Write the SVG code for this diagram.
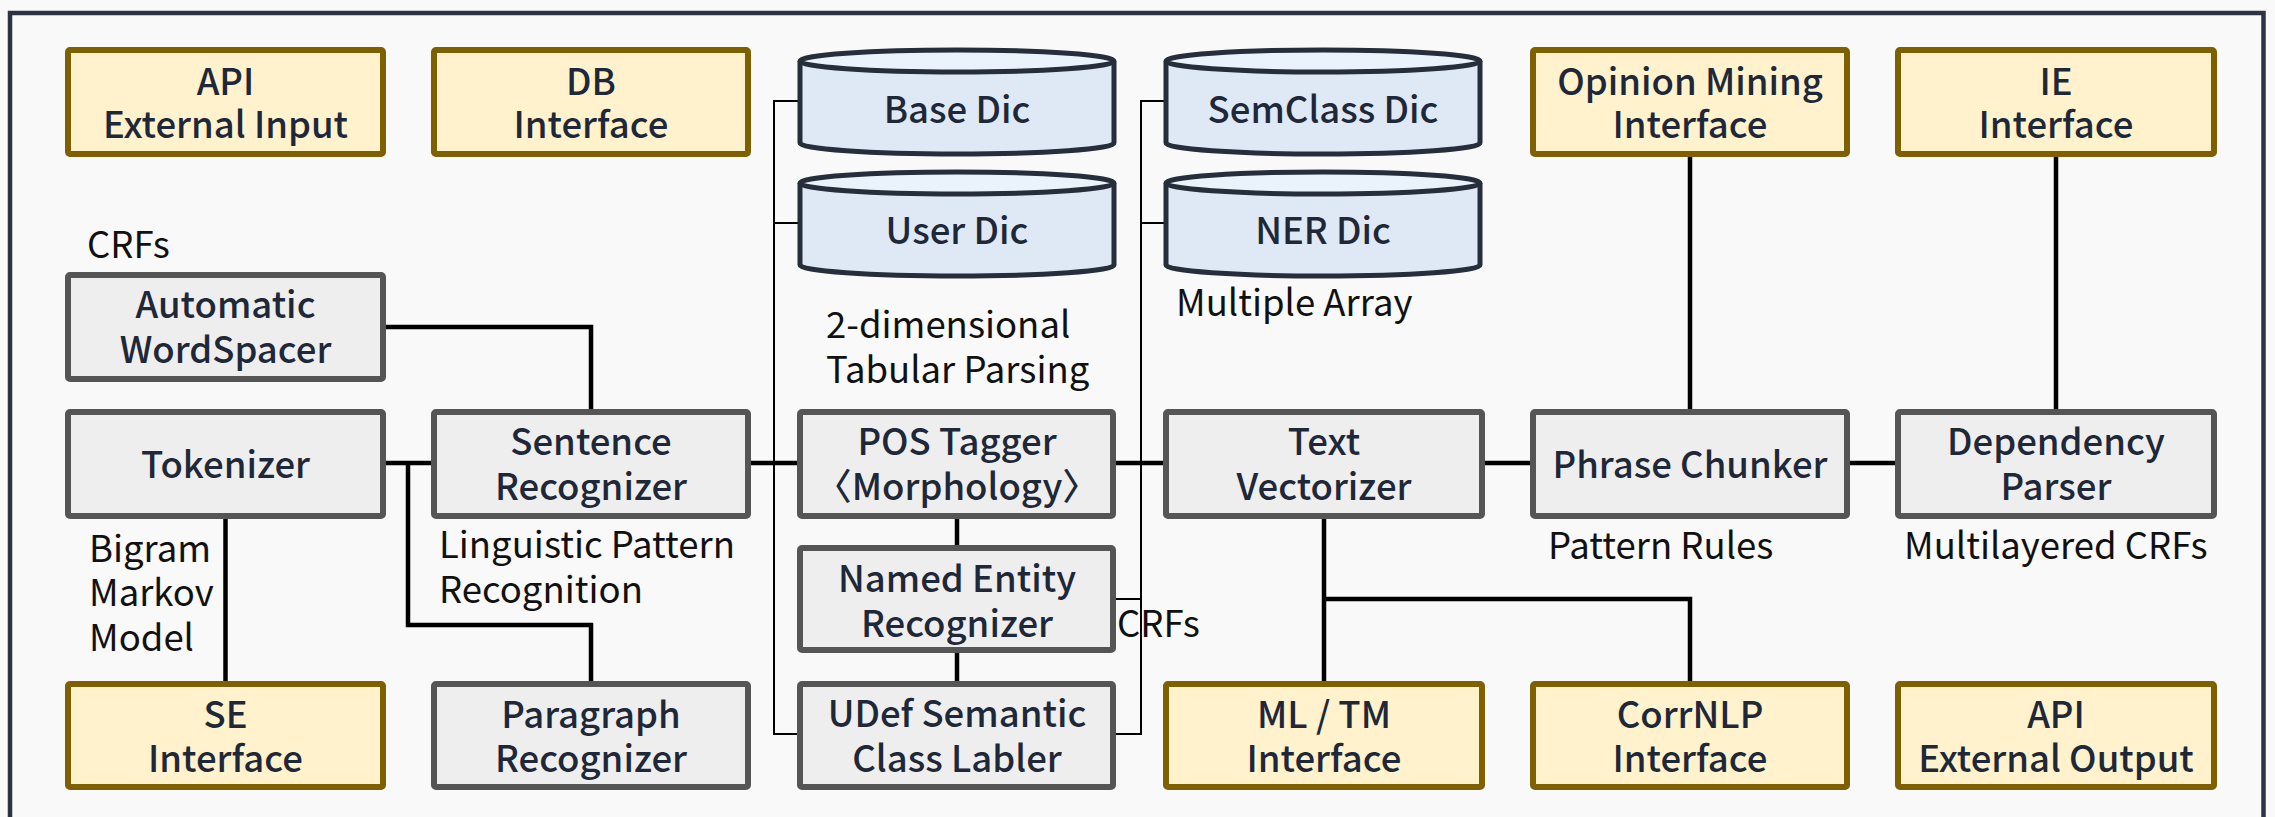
<svg xmlns="http://www.w3.org/2000/svg" width="2275" height="817" viewBox="0 0 2275 817">
<style>
.y{fill:#fff2cc;stroke:#7f6000;stroke-width:6}
.g{fill:#eeeeee;stroke:#555555;stroke-width:6}
.cb{fill:#dfe9f5;stroke:#262e3b;stroke-width:5}
.ct{fill:#eaf2fb;stroke:#262e3b;stroke-width:5}
.t{font-family:"Noto Sans CJK KR","Noto Sans",sans-serif;font-size:36.5px;font-weight:500;fill:#1e2838;text-anchor:middle}
.a{font-family:"Noto Sans CJK KR","Noto Sans",sans-serif;font-size:36.5px;font-weight:400;fill:#111111}
.k{fill:none;stroke:#000;stroke-width:4.5}
.n{fill:none;stroke:#000;stroke-width:2}
</style>
<rect x="0" y="0" width="2275" height="817" fill="#f9f9f9"/>
<rect x="10" y="13" width="2253.5" height="830" fill="#f9f9f9" stroke="#2d3441" stroke-width="4.5"/>

<g id="connectors">
<path class="n" d="M798,101 H774 V734 H797 M774,223 H798"/>
<path class="n" d="M1164,101 H1141 V734 H1116 M1141,223 H1164 M1116,599 H1141"/>
<path class="k" d="M386,327 H591 V409"/>
<path class="k" d="M386,463 H431"/>
<path class="k" d="M408,463 V625 H591 V681"/>
<path class="k" d="M225.5,518 V681"/>
<path class="k" d="M751,463 H797"/>
<path class="k" d="M957,518 V545"/>
<path class="k" d="M957,653 V681"/>
<path class="k" d="M1116,463 H1163"/>
<path class="k" d="M1324,518 V681"/>
<path class="k" d="M1324,599 H1690 V681"/>
<path class="k" d="M1485,463 H1530"/>
<path class="k" d="M1850,463 H1895"/>
<path class="k" d="M1690,157 V409"/>
<path class="k" d="M2056,157 V409"/>
</g>

<g id="api-input"><rect class="y" x="68" y="50" width="315" height="104" rx="2"/><text class="t" x="225.5" y="95">API</text><text class="t" x="225.5" y="138">External Input</text></g>
<g id="db-interface"><rect class="y" x="434" y="50" width="314" height="104" rx="2"/><text class="t" x="591" y="95">DB</text><text class="t" x="591" y="138">Interface</text></g>
<g id="opinion-mining"><rect class="y" x="1533" y="50" width="314" height="104" rx="2"/><text class="t" x="1690" y="95">Opinion Mining</text><text class="t" x="1690" y="138">Interface</text></g>
<g id="ie-interface"><rect class="y" x="1898" y="50" width="316" height="104" rx="2"/><text class="t" x="2056" y="95">IE</text><text class="t" x="2056" y="138">Interface</text></g>

<g id="base-dic"><path class="cb" d="M800,61 V143 A157,11 0 0 0 1114,143 V61"/><ellipse class="ct" cx="957" cy="61" rx="157" ry="11"/><text class="t" x="957" y="123">Base Dic</text></g>
<g id="user-dic"><path class="cb" d="M800,183 V265 A157,11 0 0 0 1114,265 V183"/><ellipse class="ct" cx="957" cy="183" rx="157" ry="11"/><text class="t" x="957" y="244">User Dic</text></g>
<g id="semclass-dic"><path class="cb" d="M1166,61 V143 A157,11 0 0 0 1480,143 V61"/><ellipse class="ct" cx="1323" cy="61" rx="157" ry="11"/><text class="t" x="1323" y="123">SemClass Dic</text></g>
<g id="ner-dic"><path class="cb" d="M1166,183 V265 A157,11 0 0 0 1480,265 V183"/><ellipse class="ct" cx="1323" cy="183" rx="157" ry="11"/><text class="t" x="1323" y="244">NER Dic</text></g>

<g id="word-spacer"><rect class="g" x="68" y="275" width="315" height="104" rx="2"/><text class="t" x="225.5" y="318">Automatic</text><text class="t" x="225.5" y="363">WordSpacer</text></g>

<g id="tokenizer"><rect class="g" x="68" y="412" width="315" height="104" rx="2"/><text class="t" x="225.5" y="478">Tokenizer</text></g>
<g id="sentence-recognizer"><rect class="g" x="434" y="412" width="314" height="104" rx="2"/><text class="t" x="591" y="455">Sentence</text><text class="t" x="591" y="500">Recognizer</text></g>
<g id="pos-tagger"><rect class="g" x="800" y="412" width="313" height="104" rx="2"/><text class="t" x="957" y="455">POS Tagger</text><text class="t" x="957" y="500">〈Morphology〉</text></g>
<g id="text-vectorizer"><rect class="g" x="1166" y="412" width="316" height="104" rx="2"/><text class="t" x="1324" y="455">Text</text><text class="t" x="1324" y="500">Vectorizer</text></g>
<g id="phrase-chunker"><rect class="g" x="1533" y="412" width="314" height="104" rx="2"/><text class="t" x="1690" y="478">Phrase Chunker</text></g>
<g id="dependency-parser"><rect class="g" x="1898" y="412" width="316" height="104" rx="2"/><text class="t" x="2056" y="455">Dependency</text><text class="t" x="2056" y="500">Parser</text></g>

<g id="ner"><rect class="g" x="800" y="548" width="313" height="102" rx="2"/><text class="t" x="957" y="592">Named Entity</text><text class="t" x="957" y="637">Recognizer</text></g>

<g id="se-interface"><rect class="y" x="68" y="684" width="315" height="103" rx="2"/><text class="t" x="225.5" y="728">SE</text><text class="t" x="225.5" y="772">Interface</text></g>
<g id="paragraph-recognizer"><rect class="g" x="434" y="684" width="314" height="103" rx="2"/><text class="t" x="591" y="728">Paragraph</text><text class="t" x="591" y="772">Recognizer</text></g>
<g id="udef-labler"><rect class="g" x="800" y="684" width="313" height="103" rx="2"/><text class="t" x="957" y="727">UDef Semantic</text><text class="t" x="957" y="772">Class Labler</text></g>
<g id="ml-tm"><rect class="y" x="1166" y="684" width="316" height="103" rx="2"/><text class="t" x="1324" y="728">ML / TM</text><text class="t" x="1324" y="772">Interface</text></g>
<g id="corrnlp"><rect class="y" x="1533" y="684" width="314" height="103" rx="2"/><text class="t" x="1690" y="728">CorrNLP</text><text class="t" x="1690" y="772">Interface</text></g>
<g id="api-output"><rect class="y" x="1898" y="684" width="316" height="103" rx="2"/><text class="t" x="2056" y="728">API</text><text class="t" x="2056" y="772">External Output</text></g>

<g id="annotations">
<text class="a" x="87" y="258">CRFs</text>
<text class="a" x="89" y="562">Bigram</text>
<text class="a" x="89" y="606">Markov</text>
<text class="a" x="89" y="651">Model</text>
<text class="a" x="439" y="558">Linguistic Pattern</text>
<text class="a" x="439" y="603">Recognition</text>
<text class="a" x="826" y="338">2-dimensional</text>
<text class="a" x="826" y="383">Tabular Parsing</text>
<text class="a" x="1176" y="316">Multiple Array</text>
<text class="a" x="1117" y="637">CRFs</text>
<text class="a" x="1548" y="559">Pattern Rules</text>
<text class="a" x="1904" y="559">Multilayered CRFs</text>
</g>
</svg>
